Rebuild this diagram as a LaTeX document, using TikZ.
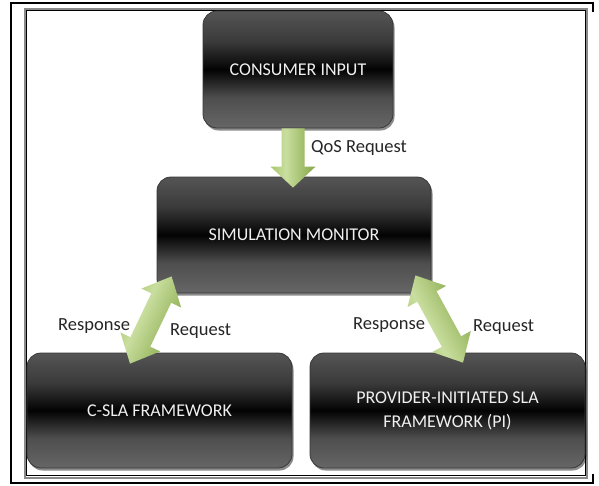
\documentclass[tikz,border=0pt]{standalone}
\usepackage{fontspec}
\setmainfont{Carlito}
\usetikzlibrary{calc,shadows}
\definecolor{bxbot}{HTML}{666666}
\definecolor{bxlow}{HTML}{4E4E4E}
\definecolor{bxmid}{HTML}{030303}
\definecolor{bxhi}{HTML}{3A3A3A}
\definecolor{bxtop}{HTML}{555555}
\definecolor{boxline}{HTML}{383838}
\definecolor{g1}{HTML}{A8C66A}
\definecolor{g2}{HTML}{C9DE9F}
\definecolor{g3}{HTML}{84A645}
\definecolor{framegray}{HTML}{8A8A8A}
\pgfdeclareverticalshading{boxsh}{100bp}{color(0bp)=(bxbot); color(25bp)=(bxbot); color(38bp)=(bxlow); color(50bp)=(bxmid); color(62bp)=(bxhi); color(75bp)=(bxtop); color(100bp)=(bxtop)}
\pgfdeclarehorizontalshading{grsh}{100bp}{color(0bp)=(g1); color(25bp)=(g1); color(42bp)=(g2); color(75bp)=(g3); color(100bp)=(g3)}
\newcommand{\fatdouble}[3]{%
  \coordinate (#1-h) at ($(#1)!24pt!(#2)$);
  \coordinate (#2-h) at ($(#2)!24pt!(#1)$);
  \path[fat, shading angle=#3] (#1)
    -- ($(#1-h)!22pt!90:(#2)$) -- ($(#1-h)!11pt!90:(#2)$)
    -- ($(#2-h)!11pt!-90:(#1)$) -- ($(#2-h)!22pt!-90:(#1)$)
    -- (#2)
    -- ($(#2-h)!22pt!90:(#1)$) -- ($(#2-h)!11pt!90:(#1)$)
    -- ($(#1-h)!11pt!-90:(#2)$) -- ($(#1-h)!22pt!-90:(#2)$)
    -- cycle;}
\newcommand{\fatsingle}[3]{%
  \coordinate (#2-h) at ($(#2)!21pt!(#1)$);
  \path[fat, shading angle=#3] ($(#1)!11.5pt!-90:(#2)$)
    -- ($(#2-h)!11.5pt!90:(#1)$) -- ($(#2-h)!22.5pt!90:(#1)$)
    -- (#2)
    -- ($(#2-h)!22.5pt!-90:(#1)$) -- ($(#2-h)!11.5pt!-90:(#1)$)
    -- ($(#1)!11.5pt!90:(#2)$) -- cycle;}
\begin{document}
\begin{tikzpicture}[x=1pt,y=-1pt,
  box/.style={rounded corners=14pt, draw=boxline, line width=0.8pt, shading=boxsh,
    drop shadow={shadow xshift=1.5pt, shadow yshift=-2.5pt, fill=black, opacity=0.45},
    text=white!94!black, font=\fontsize{18}{24}\selectfont, align=center, inner sep=0pt},
  lbl/.style={font=\fontsize{18.5}{22}\selectfont, text=black!85, anchor=west, inner sep=0pt},
  fat/.style={shading=grsh, draw=none}]
\useasboundingbox (0,0) rectangle (599,485);
\fill[white] (0,0) rectangle (599,485);
% outer frame
\draw[black, line width=1.8pt] (593,12) -- (593,3) -- (11,3) -- (11,483) -- (593,483) -- (593,474);
\draw[framegray, line width=2pt] (24.5,9) rectangle (587.3,477.5);
\draw[black, line width=0.7pt] (26.2,10.7) rectangle (585.8,475.8);
% boxes
\node[box, minimum width=190pt, minimum height=117pt] (cons) at (298,69.5) {CONSUMER INPUT};
\node[box, minimum width=274pt, minimum height=116pt] (sim) at (294,235) {SIMULATION MONITOR};
\node[box, minimum width=265pt, minimum height=115pt] (csla) at (159.5,410.5) {C-SLA FRAMEWORK};
\node[box, minimum width=275pt, minimum height=115pt] (pi) at (447.5,410.5) {PROVIDER-INITIATED SLA\\FRAMEWORK (PI)};
% arrow end points
\coordinate (d0) at ($(cons.south)+(-5,0)$);
\coordinate (d1) at ($(sim.north)+(-1,11)$);
\coordinate (la) at ($(sim.south west)+(15,-17)$);
\coordinate (lb) at ($(csla.north)+(-29.5,11)$);
\coordinate (ra) at ($(sim.south east)+(-16,-18)$);
\coordinate (rb) at ($(pi.north)+(15.5,10)$);
\fatsingle{d0}{d1}{0}
\fatdouble{la}{lb}{-25.5}
\fatdouble{ra}{rb}{28.6}
% labels
\node[lbl] (qos) at (311,148) {QoS Request};
\node[lbl] (resl) at (58,326) {Response};
\node[lbl] (reql) at (170,331) {Request};
\node[lbl] (resr) at (353,325) {Response};
\node[lbl] (reqr) at (473,327) {Request};
\end{tikzpicture}
\end{document}
